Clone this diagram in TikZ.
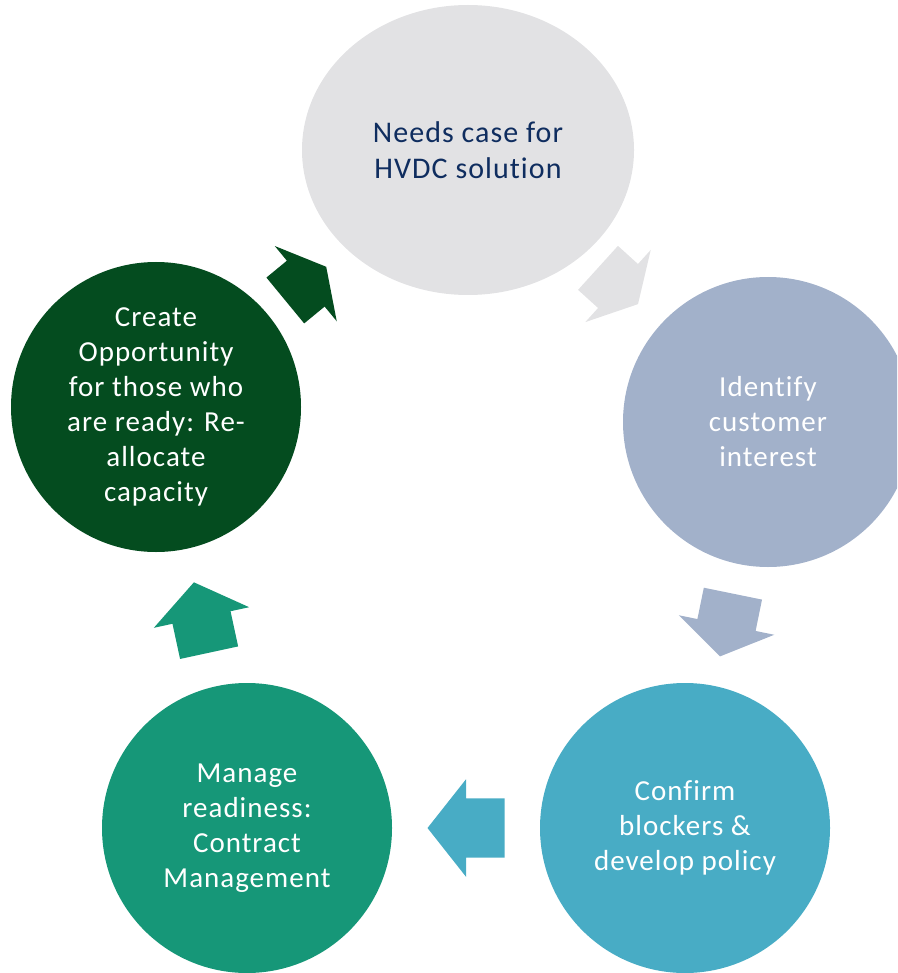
\documentclass[tikz,border=0pt]{standalone}
\usepackage{fontspec}
\setmainfont{Carlito}[Ligatures={NoCommon}, LetterSpace=3.5]
\usetikzlibrary{shapes.geometric, calc}

\definecolor{needsgrey}{HTML}{E2E2E4}
\definecolor{needsnavy}{HTML}{0F2D5F}
\definecolor{interestblue}{HTML}{A2B1CA}
\definecolor{blockersteal}{HTML}{48ACC5}
\definecolor{readinessgreen}{HTML}{169778}
\definecolor{capacitygreen}{HTML}{044C1F}

\tikzset{
	pics/cyclearrow/.style={
		code={
			\fill (-#1/2, 29.7) -- (0, 29.7) -- (0, 48.75) -- (#1/2, 0) -- (0, -48.75) -- (0, -29.7) -- (-#1/2, -29.7) -- cycle;
		}
	}
}

\begin{document}
\begin{tikzpicture}[x=1pt, y=-1pt,
	stage/.style={shape=circle, minimum size=290pt, inner sep=0pt, align=center, text=white, font=\fontsize{29}{35}\selectfont},
	needsstage/.style={shape=ellipse, minimum width=332pt, minimum height=290pt, inner sep=0pt, align=center, text=needsnavy, font=\fontsize{30}{36.5}\selectfont}]
	\useasboundingbox (0, 0) rectangle (897, 973);
	\clip (0, 0) rectangle (897, 973);
	% Stages of the cycle:
	\node[needsstage, fill=needsgrey] (needs) at (468, 150){Needs case for\\HVDC solution};
	\node[stage, fill=interestblue] (interest) at (768, 422){Identify\\customer\\interest};
	\node[stage, fill=blockersteal] (blockers) at (685, 828){Confirm\\blockers \&\\develop policy};
	\node[stage, fill=readinessgreen] (readiness) at (247, 828){Manage\\readiness:\\Contract\\Management};
	\node[stage, fill=capacitygreen] (capacity) at (156, 407){Create\\Opportunity\\for those who\\are ready: Re-\\allocate\\capacity};
	% Arrows between stages:
	\path let \p1 = ($(interest)-(needs)$), \n1 = {atan2(\y1, \x1)} in ($(needs)!.5!(interest)$) pic[rotate=\n1, fill=needsgrey]{cyclearrow=54};
	\path let \p1 = ($(blockers)-(interest)$), \n1 = {atan2(\y1, \x1)} in ($(interest)!.5!(blockers)$) pic[rotate=\n1, fill=interestblue]{cyclearrow=64};
	\path let \p1 = ($(readiness)-(blockers)$), \n1 = {atan2(\y1, \x1)} in ($(blockers)!.5!(readiness)$) pic[rotate=\n1, fill=blockersteal]{cyclearrow=77};
	\path let \p1 = ($(capacity)-(readiness)$), \n1 = {atan2(\y1, \x1)} in ($(readiness)!.5!(capacity)$) pic[rotate=\n1, fill=readinessgreen]{cyclearrow=72};
	\path let \p1 = ($(needs)-(capacity)$), \n1 = {atan2(\y1, \x1)} in ($(capacity)!.48!(needs)$) pic[rotate=\n1, fill=capacitygreen]{cyclearrow=53};
\end{tikzpicture}
\end{document}
